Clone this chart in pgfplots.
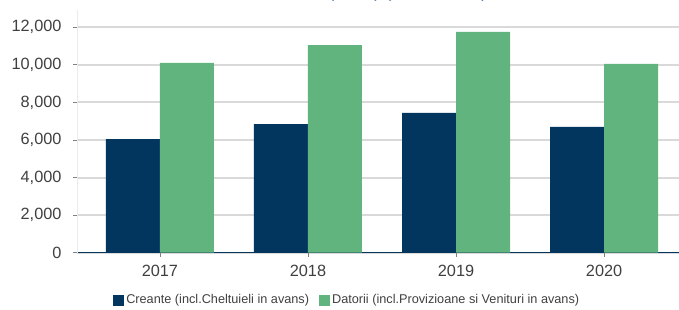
\documentclass[border=0pt]{standalone}
\usepackage{pgfplots}
\pgfplotsset{compat=1.18}
\usepackage{fontspec}
\setmainfont{Liberation Sans}
\definecolor{navy}{HTML}{03365E}
\definecolor{green}{HTML}{62B47F}
\definecolor{gridgray}{HTML}{D9D9D9}
\definecolor{ticktext}{HTML}{404040}
\definecolor{titleblue}{HTML}{2F5C8A}
\begin{document}
\begin{tikzpicture}[x=1pt,y=1pt]
\begin{axis}[
  at={(77pt,56.3pt)}, anchor=south west, scale only axis,
  width=610pt, height=242.7pt,
  xmin=-0.56, xmax=3.56, ymin=0, ymax=12920,
  ybar=0pt, bar width=54pt,
  xtick={0,1,2,3}, xticklabels={2017,2018,2019,2020},
  ytick={0,2000,4000,6000,8000,10000,12000},
  scaled y ticks=false,
  ymajorgrids, grid style={draw=gridgray, line width=2pt},
  axis x line*=bottom, axis y line*=left,
  x axis line style={draw=navy, line width=0.8pt, -},
  y axis line style={draw=gray!15, line width=0.8pt, -},
  tick align=outside, major tick length=4pt,
  tick style={draw=gray, line width=0.8pt},
  ticklabel style={font=\fontsize{16.3}{19}\selectfont, text=ticktext},
  xticklabel style={yshift=-5pt},
  yticklabel style={xshift=-8pt},
  /pgf/number format/.cd, 1000 sep={,}, assume math mode=true, /pgfplots/.cd,
  every axis plot/.append style={draw=none},
  legend style={at={(0.443,-0.195)}, anchor=center, draw=none, fill=none,
    font=\fontsize{12.7}{15}\selectfont, text=ticktext, legend columns=2,
    /tikz/every even column/.append style={column sep=8pt}},
  legend image code/.code={\fill[#1,draw=none] (0pt,-5.5pt) rectangle (11pt,5.5pt);},
]
\addplot[fill=navy] coordinates {(0,6050) (1,6850) (2,7440) (3,6700)};
\addplot[fill=green] coordinates {(0,10100) (1,11050) (2,11750) (3,10050)};
\legend{Creante (incl.Cheltuieli in avans), Datorii (incl.Provizioane si Venituri in avans)}
\end{axis}
\node[anchor=base east, text=titleblue, font=\fontsize{18}{21}\selectfont] at (491pt,311.8pt) {Creante si Datorii (RON) (milioane lei)};
\pgfresetboundingbox
\useasboundingbox (0,0) rectangle (679pt,309pt);
\end{tikzpicture}
\end{document}
